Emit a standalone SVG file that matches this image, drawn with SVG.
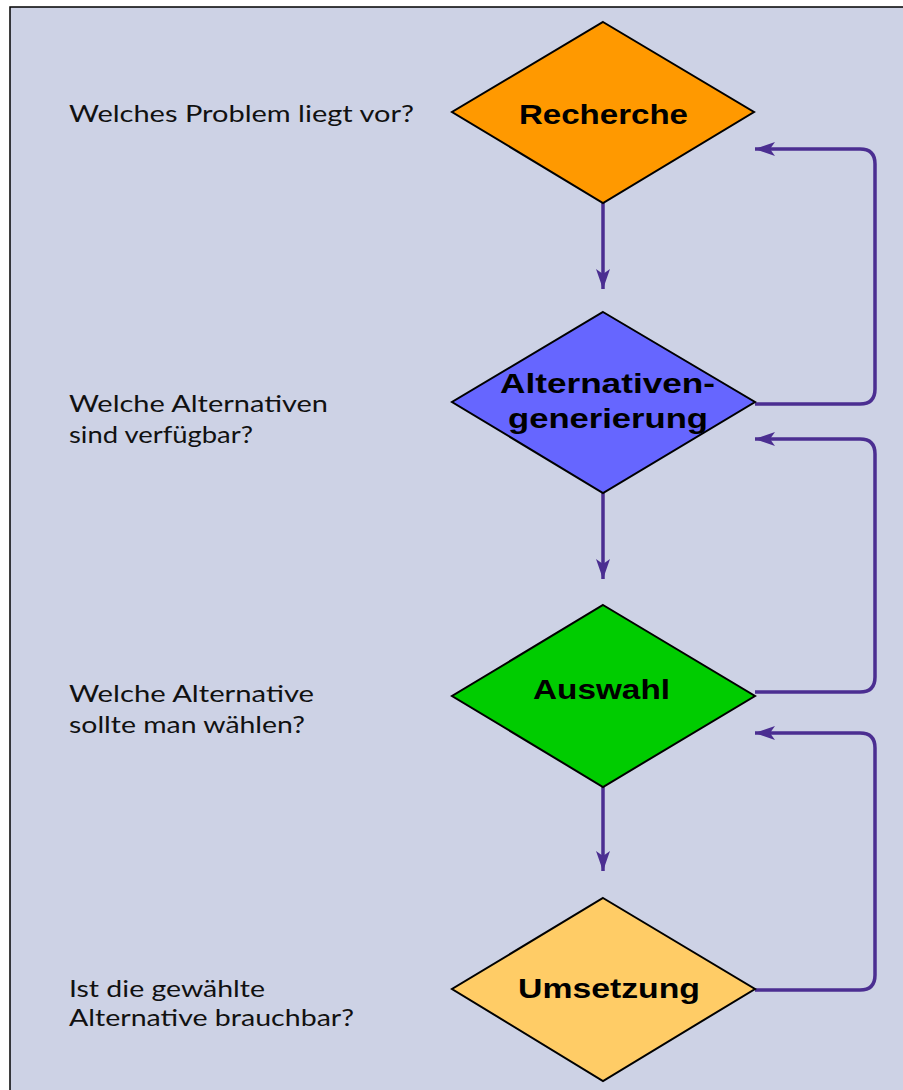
<svg xmlns="http://www.w3.org/2000/svg" width="903" height="1090" viewBox="0 0 903 1090">
<style>
.bg{fill:#CDD2E5;stroke:#000;stroke-width:1.5}
.dia{stroke:#000;stroke-width:2}
.lbl{font-family:"Liberation Sans",Arial,sans-serif;font-weight:bold;font-size:28px;fill:#000}
.q{font-family:Lato,"Open Sans",sans-serif;font-size:24px;fill:#111}
.con{fill:none;stroke:#4B2E91;stroke-width:3.5}
</style>
<defs>
<marker id="ah" viewBox="0 0 20 14" refX="20" refY="7" markerWidth="20" markerHeight="14" markerUnits="userSpaceOnUse" orient="auto">
<path d="M0,0 L20,7 L0,14 L5,7 Z" fill="#4B2E91"/>
</marker>
</defs>
<rect class="bg" x="10" y="7" width="900" height="1090"/>
<g id="connectors">
<path class="con" d="M603,203 V289" marker-end="url(#ah)"/>
<path class="con" d="M603,493 V579" marker-end="url(#ah)"/>
<path class="con" d="M603,787 V871" marker-end="url(#ah)"/>
<path class="con" d="M755,404 H860 Q875,404 875,389 V164 Q875,149 860,149 H755" marker-end="url(#ah)"/>
<path class="con" d="M755,692 H860 Q875,692 875,677 V454 Q875,439 860,439 H755" marker-end="url(#ah)"/>
<path class="con" d="M755,990 H860 Q875,990 875,975 V748 Q875,733 860,733 H755" marker-end="url(#ah)"/>
</g>
<g id="recherche">
<polygon class="dia" fill="#FF9900" points="603,22 754,112 603,203 452,112"/>
<text class="lbl" x="519" y="124" textLength="169" lengthAdjust="spacingAndGlyphs">Recherche</text>
</g>
<g id="alternativen">
<polygon class="dia" fill="#6666FF" points="603,312 755,402 603,493 452,402"/>
<text class="lbl" x="500" y="393" textLength="215" lengthAdjust="spacingAndGlyphs">Alternativen-</text>
<text class="lbl" x="508" y="428" textLength="200" lengthAdjust="spacingAndGlyphs">generierung</text>
</g>
<g id="auswahl">
<polygon class="dia" fill="#00CC00" points="603,605 755,696 603,787 452,696"/>
<text class="lbl" x="533" y="699" textLength="137" lengthAdjust="spacingAndGlyphs">Auswahl</text>
</g>
<g id="umsetzung">
<polygon class="dia" fill="#FFCC66" points="603,898 755,989 603,1081 452,989"/>
<text class="lbl" x="518" y="998" textLength="182" lengthAdjust="spacingAndGlyphs">Umsetzung</text>
</g>
<g id="q1">
<text class="q" x="69" y="122" textLength="345" lengthAdjust="spacingAndGlyphs">Welches Problem liegt vor?</text>
</g>
<g id="q2">
<text class="q" x="69" y="412" textLength="259" lengthAdjust="spacingAndGlyphs">Welche Alternativen</text>
<text class="q" x="69" y="443" textLength="184" lengthAdjust="spacingAndGlyphs">sind verfügbar?</text>
</g>
<g id="q3">
<text class="q" x="69" y="702" textLength="245" lengthAdjust="spacingAndGlyphs">Welche Alternative</text>
<text class="q" x="69" y="733" textLength="236" lengthAdjust="spacingAndGlyphs">sollte man wählen?</text>
</g>
<g id="q4">
<text class="q" x="69" y="997" textLength="196" lengthAdjust="spacingAndGlyphs">Ist die gewählte</text>
<text class="q" x="69" y="1026" textLength="285" lengthAdjust="spacingAndGlyphs">Alternative brauchbar?</text>
</g>
</svg>
